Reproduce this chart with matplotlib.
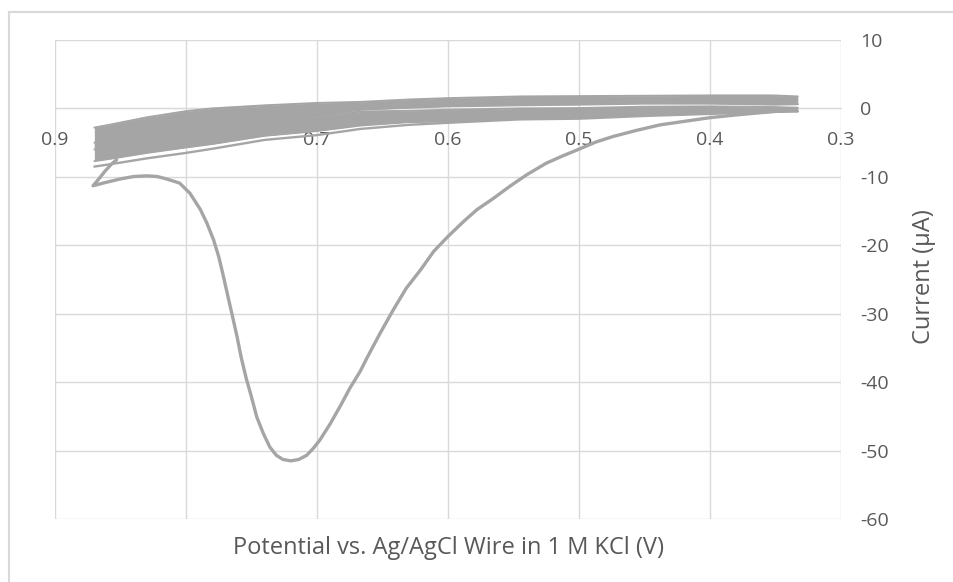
import matplotlib
matplotlib.use("Agg")
import matplotlib.pyplot as plt
from matplotlib.lines import Line2D

TRACE_GREY = "#A5A5A5"
GRID_GREY = "#D9D9D9"
TEXT_GREY = "#595959"

plt.rcParams["font.family"] = ["Open Sans", "DejaVu Sans"]
plt.rcParams["axes.unicode_minus"] = False

# First sweep (V, uA): reduction peak, hook at the vertex, then into the cycles
scan_potential = [0.335, 0.360, 0.380, 0.400, 0.420, 0.438, 0.456, 0.474,
                  0.487, 0.500, 0.512, 0.525, 0.540, 0.553, 0.565, 0.578,
                  0.588, 0.600, 0.611, 0.621, 0.632, 0.642, 0.652, 0.662,
                  0.667, 0.675, 0.682, 0.690, 0.698, 0.703, 0.708, 0.714,
                  0.720, 0.726, 0.731, 0.736, 0.741, 0.746, 0.750, 0.754,
                  0.758, 0.761, 0.765, 0.768, 0.772, 0.775, 0.779, 0.784,
                  0.789, 0.797, 0.805, 0.815, 0.822, 0.830, 0.840, 0.850,
                  0.861, 0.871, 0.867, 0.862, 0.857, 0.853]
scan_current = [-0.2, -0.6, -0.95, -1.35, -1.9, -2.4, -3.2, -4.1,
                -4.9, -5.95, -6.9, -8.0, -9.7, -11.4, -13.1, -14.8,
                -16.5, -18.7, -20.9, -23.6, -26.3, -29.5, -32.9, -36.5,
                -38.4, -40.9, -43.4, -46.1, -48.5, -49.7, -50.7, -51.3,
                -51.5, -51.3, -50.7, -49.5, -47.5, -45.1, -42.2, -39.5,
                -36.3, -33.4, -30.0, -27.5, -24.1, -21.7, -19.2, -16.8,
                -14.8, -12.4, -10.9, -10.3, -9.95, -9.85, -9.95, -10.3,
                -10.8, -11.3, -10.4, -9.2, -8.15, -7.5]

# Repeated cycles, drawn as the envelope of each sweep branch
cycle_potential = [0.870, 0.856, 0.830, 0.800, 0.780, 0.740, 0.700, 0.667,
                   0.630, 0.600, 0.545, 0.500, 0.450, 0.400, 0.352, 0.333]
anodic_top = [-2.8, -2.3, -1.3, -0.4, 0.0, 0.45, 0.8, 0.95,
              1.3, 1.5, 1.75, 1.8, 1.85, 1.9, 1.9, 1.75]
anodic_bottom = [-6.0, -5.5, -4.5, -3.5, -3.0, -2.0, -1.0, -0.2,
                 0.1, 0.3, 0.45, 0.55, 0.7, 0.7, 0.55, 0.6]
cathodic_top = [-5.0, -4.5, -4.0, -3.0, -2.5, -1.8, -1.2, -0.45,
                -0.35, -0.2, 0.0, 0.05, 0.25, 0.3, 0.2, 0.1]
cathodic_bottom = [-7.7, -7.3, -6.5, -5.7, -5.2, -4.0, -3.3, -2.5,
                   -2.0, -1.9, -1.4, -1.4, -1.0, -0.7, -0.45, -0.4]
# lowest return sweep, just under the band
first_return = [-8.5, -8.1, -7.3, -6.5, -5.9, -4.6, -3.9, -3.0,
                -2.4, -2.1, -1.6, -1.5, -1.1, -0.8, -0.5, -0.45]

x_ticks = [0.9, 0.8, 0.7, 0.6, 0.5, 0.4, 0.3]
y_ticks = [10, 0, -10, -20, -30, -40, -50, -60]

fig = plt.figure(figsize=(9.54, 5.82), dpi=100)
ax = fig.add_axes([0.0577, 0.1082, 0.8239, 0.8231])

# Chart frame (top and left edges only show)
fig.add_artist(Line2D([9 / 954, 9 / 954], [0, 1 - 12 / 582],
                      color=GRID_GREY, lw=1.5))
fig.add_artist(Line2D([9 / 954, 1], [1 - 12 / 582, 1 - 12 / 582],
                      color=GRID_GREY, lw=1.5))

# Cycling band
for lo, hi in [(anodic_bottom, anodic_top), (cathodic_bottom, cathodic_top)]:
    ax.fill_between(cycle_potential, lo, hi, color=TRACE_GREY, lw=0)
    ax.plot(cycle_potential, lo, color=TRACE_GREY, lw=1.4,
            solid_capstyle="round")
    ax.plot(cycle_potential, hi, color=TRACE_GREY, lw=1.4,
            solid_capstyle="round")
ax.plot(cycle_potential, first_return, color=TRACE_GREY, lw=1.7,
        solid_capstyle="round")

# First sweep
ax.plot(scan_potential, scan_current, color=TRACE_GREY, lw=2.4,
        solid_capstyle="round", solid_joinstyle="round")

ax.set_xlim(0.9, 0.3)
ax.set_ylim(-60, 10)
ax.set_xticks(x_ticks)
ax.set_xticklabels([f"{v:.1f}" for v in x_ticks])
ax.set_yticks(y_ticks)
ax.set_yticklabels([str(v) for v in y_ticks])

ax.grid(True, color=GRID_GREY, lw=1.0)
ax.set_axisbelow(True)

for side in ["top", "left", "right"]:
    ax.spines[side].set_visible(False)
ax.spines["bottom"].set_position(("data", 0))
ax.spines["bottom"].set_color(GRID_GREY)
ax.spines["bottom"].set_zorder(0.5)

ax.yaxis.tick_right()
ax.tick_params(axis="x", length=0, pad=16, labelsize=14, labelcolor=TEXT_GREY)
ax.tick_params(axis="y", length=0, pad=14, labelsize=14, labelcolor=TEXT_GREY)
for lab in ax.get_yticklabels():
    lab.set_horizontalalignment("left")

ax.set_xlabel("Potential vs. Ag/AgCl Wire in 1 M KCl (V)", fontsize=17,
              color=TEXT_GREY, va="center")
ax.xaxis.set_label_coords(0.5, -0.06)
ax.set_ylabel("Current (µA)", fontsize=17, color=TEXT_GREY,
              rotation=90, va="center", ha="center")
ax.yaxis.set_label_coords(1.1056, 0.505)

fig.savefig("out.png", dpi=100)
